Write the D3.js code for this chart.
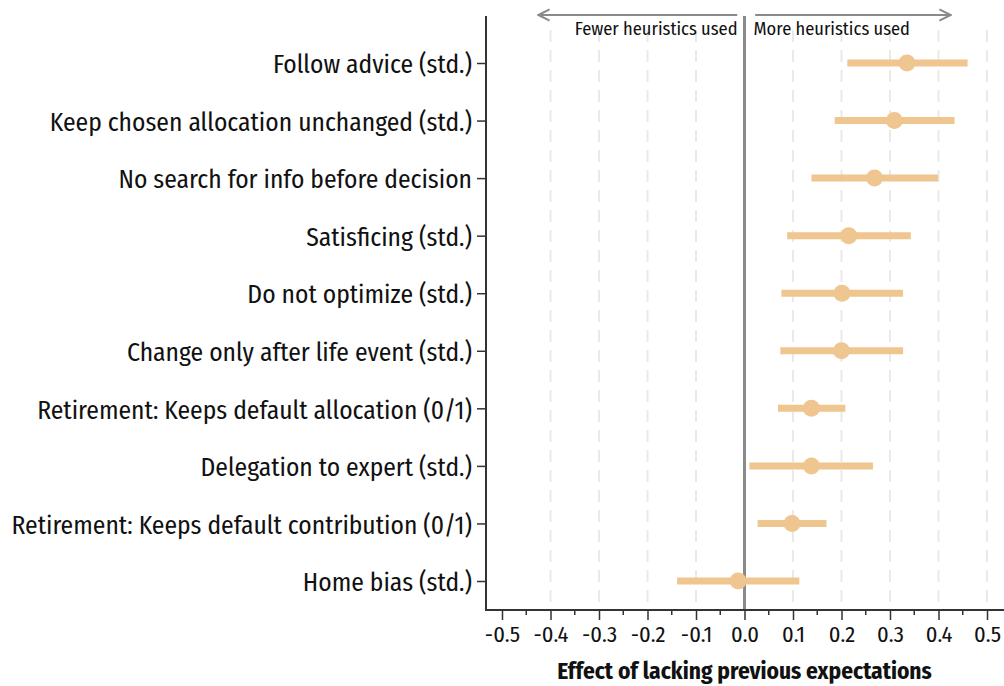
<!DOCTYPE html>
<html>
<head>
<meta charset="utf-8">
<script src="https://cdn.jsdelivr.net/npm/d3@7"></script>
<style>
  html, body { margin: 0; padding: 0; background: #fff; }
  svg { display: block; }
  text { font-family: "Fira Sans Condensed", "Roboto Condensed", "Liberation Sans Narrow", "Arial Narrow", "DejaVu Sans Condensed", sans-serif; fill: #111; }
</style>
</head>
<body>
<svg id="chart" width="1004" height="686"></svg>
<script>
// Outcome measures, top to bottom
const outcomes = [
  "Follow advice (std.)",
  "Keep chosen allocation unchanged (std.)",
  "No search for info before decision",
  "Satisficing (std.)",
  "Do not optimize (std.)",
  "Change only after life event (std.)",
  "Retirement: Keeps default allocation (0/1)",
  "Delegation to expert (std.)",
  "Retirement: Keeps default contribution (0/1)",
  "Home bias (std.)"
];
// Point estimates and 95% confidence bounds
const estimates = [0.335, 0.309, 0.268, 0.215, 0.201, 0.200, 0.138, 0.138, 0.098, -0.013];
const ciLower   = [0.212, 0.186, 0.138, 0.088, 0.076, 0.074, 0.069, 0.010, 0.027, -0.139];
const ciUpper   = [0.460, 0.433, 0.399, 0.343, 0.327, 0.327, 0.208, 0.265, 0.169, 0.113];

const majorTicks = [-0.5, -0.4, -0.3, -0.2, -0.1, 0.0, 0.1, 0.2, 0.3, 0.4, 0.5];
const minorTicks = [-0.45, -0.35, -0.25, -0.15, -0.05, 0.05, 0.15, 0.25, 0.35, 0.45];
const gridTicks  = [-0.4, -0.3, -0.2, -0.1, 0.1, 0.2, 0.3, 0.4, 0.5];

const xAxisTitle = "Effect of lacking previous expectations";
const leftNote = "Fewer heuristics used";
const rightNote = "More heuristics used";

const rows = outcomes.map((name, i) => ({
  name, est: estimates[i], lo: ciLower[i], hi: ciUpper[i]
}));

const svg = d3.select("#chart");
const plotLeft = 486, plotTop = 16, plotBottom = 610, plotRight = 1004;

const x = d3.scaleLinear().domain([-0.5, 0.5]).range([502, 987]);
const y = d3.scalePoint().domain(outcomes).range([63, 581]);

const markColor = "#EFC590";

// dashed vertical grid
svg.append("g")
  .selectAll("line")
  .data(gridTicks)
  .join("line")
  .attr("x1", d => x(d)).attr("x2", d => x(d))
  .attr("y1", plotTop + 14).attr("y2", plotBottom)
  .attr("stroke", "#e9e9e9")
  .attr("stroke-width", 2)
  .attr("stroke-dasharray", "12,8");

// reference line at zero
svg.append("line")
  .attr("x1", x(0)).attr("x2", x(0))
  .attr("y1", plotTop).attr("y2", plotBottom)
  .attr("stroke", "#8a8a8a")
  .attr("stroke-width", 3);

// direction arrows
const defs = svg.append("defs");
defs.append("marker")
  .attr("id", "arrowHead")
  .attr("viewBox", "0 0 10 10")
  .attr("refX", 9).attr("refY", 5)
  .attr("markerWidth", 14).attr("markerHeight", 14)
  .attr("markerUnits", "userSpaceOnUse")
  .attr("orient", "auto-start-reverse")
  .append("path")
  .attr("d", "M1,1 L9,5 L1,9")
  .attr("fill", "none")
  .attr("stroke", "#8a8a8a")
  .attr("stroke-width", 1.4);

svg.append("line")
  .attr("x1", x(-0.015)).attr("x2", x(-0.425))
  .attr("y1", 15).attr("y2", 15)
  .attr("stroke", "#8a8a8a").attr("stroke-width", 2)
  .attr("marker-end", "url(#arrowHead)");
svg.append("line")
  .attr("x1", x(0.022)).attr("x2", x(0.425))
  .attr("y1", 15).attr("y2", 15)
  .attr("stroke", "#8a8a8a").attr("stroke-width", 2)
  .attr("marker-end", "url(#arrowHead)");

svg.append("text")
  .attr("x", x(0) - 7).attr("y", 35)
  .attr("text-anchor", "end")
  .attr("font-size", 18.4)
  .text(leftNote);
svg.append("text")
  .attr("x", x(0) + 9).attr("y", 35)
  .attr("text-anchor", "start")
  .attr("font-size", 18.4)
  .text(rightNote);

// confidence intervals
svg.append("g")
  .selectAll("line")
  .data(rows)
  .join("line")
  .attr("x1", d => x(d.lo)).attr("x2", d => x(d.hi))
  .attr("y1", d => y(d.name)).attr("y2", d => y(d.name))
  .attr("stroke", markColor)
  .attr("stroke-width", 7);

// point estimates
svg.append("g")
  .selectAll("circle")
  .data(rows)
  .join("circle")
  .attr("cx", d => x(d.est))
  .attr("cy", d => y(d.name))
  .attr("r", 8.5)
  .attr("fill", markColor);

// y axis
const yAxis = svg.append("g")
  .attr("transform", `translate(${plotLeft},0)`)
  .call(d3.axisLeft(y).tickSize(9).tickPadding(5).tickSizeOuter(0));
yAxis.select(".domain").remove();
yAxis.selectAll(".tick line").attr("stroke", "#333").attr("stroke-width", 1.5);
yAxis.selectAll(".tick text").attr("font-size", 25.5).attr("fill", "#111").attr("dy", "0.38em");
svg.append("line")
  .attr("x1", plotLeft).attr("x2", plotLeft)
  .attr("y1", plotTop).attr("y2", plotBottom + 1)
  .attr("stroke", "#333").attr("stroke-width", 2);

// x axis
const xAxis = svg.append("g")
  .attr("transform", `translate(0,${plotBottom})`)
  .call(d3.axisBottom(x).tickValues(majorTicks).tickFormat(d3.format(".1f")).tickSize(10).tickPadding(6));
xAxis.select(".domain").remove();
xAxis.selectAll(".tick line").attr("stroke", "#333").attr("stroke-width", 1.5);
xAxis.selectAll(".tick text").attr("font-size", 22.5).attr("fill", "#111")
  .text(d => d3.format(".1f")(d).replace("−", "-"));
svg.append("g")
  .attr("transform", `translate(0,${plotBottom})`)
  .selectAll("line")
  .data(minorTicks)
  .join("line")
  .attr("x1", d => x(d)).attr("x2", d => x(d))
  .attr("y1", 0).attr("y2", 5)
  .attr("stroke", "#333").attr("stroke-width", 1.5);
svg.append("line")
  .attr("x1", plotLeft - 1).attr("x2", plotRight)
  .attr("y1", plotBottom).attr("y2", plotBottom)
  .attr("stroke", "#333").attr("stroke-width", 2);

svg.append("text")
  .attr("x", x(0)).attr("y", 679)
  .attr("text-anchor", "middle")
  .attr("font-size", 23.3)
  .attr("font-weight", "bold")
  .text(xAxisTitle);
</script>
</body>
</html>
